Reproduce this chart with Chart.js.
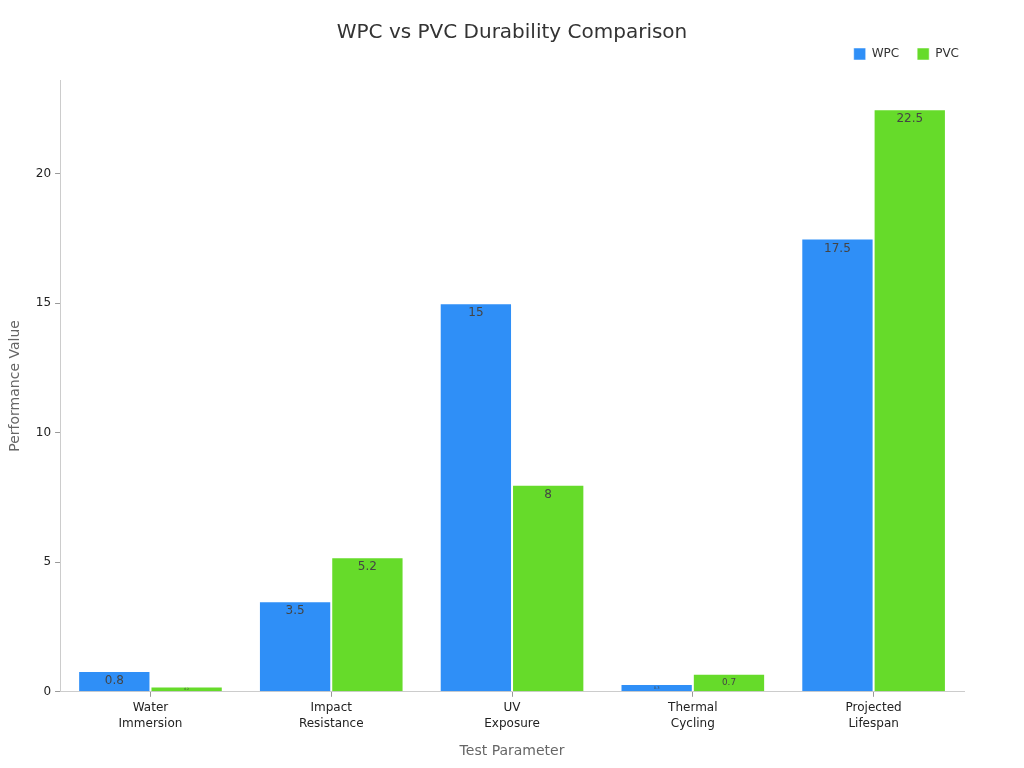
<!DOCTYPE html>
<html>
<head>
<meta charset="utf-8">
<script src="https://cdn.jsdelivr.net/npm/chart.js@4.4.0/dist/chart.umd.min.js"></script>
<style>
  html, body { margin: 0; padding: 0; background: #fff; }
  #wrap { width: 1024px; height: 768px; position: relative; }
</style>
</head>
<body>
<div id="wrap"><canvas id="chart"></canvas></div>
<script>
// --- Datos ---
const chartTitle = 'WPC vs PVC Durability Comparison';
const categories = [["Water", "Immersion"], ["Impact", "Resistance"], ["UV", "Exposure"], ["Thermal", "Cycling"], ["Projected", "Lifespan"]];
const wpcValues = [0.8, 3.5, 15, 0.3, 17.5];
const pvcValues = [0.2, 5.2, 8, 0.7, 22.5];
const yTicks = [0, 5, 10, 15, 20];

Chart.defaults.font.family = "'DejaVu Sans', sans-serif";
Chart.defaults.color = '#333';

// Título centrado en todo el lienzo
const centeredTitle = {
    id: 'centeredTitle',
    afterDraw(chart) {
        const ctx = chart.ctx;
        ctx.save();
        ctx.font = "20px 'DejaVu Sans', sans-serif";
        ctx.fillStyle = '#333';
        ctx.textAlign = 'center';
        ctx.textBaseline = 'middle';
        ctx.fillText(chartTitle, chart.width / 2, 33);
        ctx.restore();
    }
};

// Espacio extra bajo la leyenda
const legendSpacing = {
    id: 'legendSpacing',
    beforeInit(chart) {
        const fit = chart.legend.fit;
        chart.legend.fit = function () {
            fit.bind(chart.legend)();
            this.height += 10;
        };
    }
};

// Etiquetas de valor dentro de las barras (tamaño según la altura)
const valueLabels = {
    id: 'valueLabels',
    afterDatasetsDraw(chart) {
        const ctx = chart.ctx;
        chart.data.datasets.forEach((ds, di) => {
            chart.getDatasetMeta(di).data.forEach((bar, i) => {
                const h = bar.base - bar.y;
                let size = h >= 20 ? 12 : Math.max(3, h * 0.5);
                ctx.save();
                ctx.font = size + "px 'DejaVu Sans', sans-serif";
                ctx.fillStyle = '#444';
                ctx.textAlign = 'center';
                ctx.textBaseline = 'middle';
                ctx.fillText(String(ds.data[i]), bar.x, bar.y + Math.min(10, h / 2));
                ctx.restore();
            });
        });
    }
};

new Chart(document.getElementById('chart'), {
    type: 'bar',
    data: {
        labels: categories,
        datasets: [{
            label: 'WPC',
            data: wpcValues,
            backgroundColor: '#2f8ff7',
            borderColor: 'rgba(255,255,255,0.5)',
            borderWidth: 1,
            barPercentage: 1.0,
            categoryPercentage: 0.8
        }, {
            label: 'PVC',
            data: pvcValues,
            backgroundColor: '#66db2a',
            borderColor: 'rgba(255,255,255,0.5)',
            borderWidth: 1,
            barPercentage: 1.0,
            categoryPercentage: 0.8
        }]
    },
    options: {
        responsive: true,
        maintainAspectRatio: false,
        animation: false,
        layout: { padding: { left: 3, right: 47, top: 30, bottom: 4 } },
        plugins: {
            title: { display: false },
            legend: {
                display: true,
                position: 'top',
                align: 'end',
                labels: { boxWidth: 12, boxHeight: 12, padding: 18, color: '#333', font: { size: 12 } }
            },
            tooltip: { enabled: false }
        },
        scales: {
            x: {
                grid: { display: true, offset: false, drawOnChartArea: false, drawTicks: true, tickLength: 5, color: '#999' },
                border: { color: '#ccc' },
                ticks: { color: '#222', font: { size: 12, lineHeight: 1.35 }, padding: 3 },
                title: { display: true, text: 'Test Parameter', color: '#666', font: { size: 14 }, padding: { top: 8 } }
            },
            y: {
                min: 0,
                max: 23.625,
                afterBuildTicks(axis) { axis.ticks = yTicks.map(v => ({ value: v })); },
                grid: { display: true, drawOnChartArea: false, drawTicks: true, tickLength: 5, color: '#999' },
                border: { color: '#ccc' },
                ticks: { color: '#222', font: { size: 12 }, padding: 4 },
                title: { display: true, text: 'Performance Value', color: '#666', font: { size: 14 }, padding: { bottom: 8 } }
            },
            yRight: {
                position: 'right',
                display: true,
                grid: { display: false },
                border: { display: false },
                ticks: { display: false },
                afterFit(axis) { axis.width = 13; }
            }
        }
    },
    plugins: [legendSpacing, valueLabels, centeredTitle]
});
</script>
</body>
</html>
